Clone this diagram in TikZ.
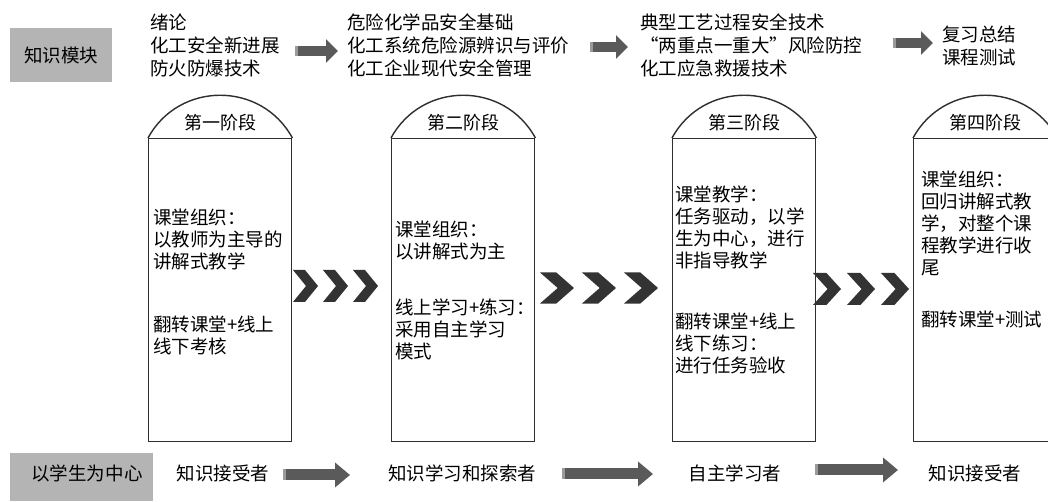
\documentclass[tikz,border=0pt]{standalone}
\usepackage{fontspec}
\setmainfont{Noto Sans CJK SC}
\usetikzlibrary{arrows.meta}
\definecolor{labelgray}{HTML}{B4B4B4}
\definecolor{arrowgray}{HTML}{5A5A5A}
\definecolor{arrowlight}{HTML}{9A9A9A}
\definecolor{chevgray}{HTML}{333333}
\definecolor{linegray}{HTML}{2E2E2E}
\begin{document}
\begin{tikzpicture}[x=1bp,y=1bp,
  txt/.style={font=\fontsize{18.5bp}{23bp}\selectfont, inner sep=0pt, align=left, anchor=north west},
  boxtxt/.style={font=\fontsize{18.5bp}{22bp}\selectfont, inner sep=0pt, align=left, anchor=north west},
  titletxt/.style={font=\fontsize{18bp}{22bp}\selectfont, inner sep=0pt},
  labelbox/.style={fill=labelgray, draw=none, inner sep=0pt, font=\fontsize{18.5bp}{22bp}\selectfont},
  stagebox/.style={draw=linegray, line width=1.4bp, minimum width=143bp, minimum height=303bp, inner sep=0pt, anchor=north west},
  arcline/.style={draw=linegray, line width=1.4bp},
  bigarrow/.style={draw=arrowgray, line width=10bp, -{Triangle[length=12bp,width=23bp]}},
  lowarrow/.style={draw=arrowgray, line width=11bp, -{Triangle[length=15bp,width=24bp]}},
  arrowedge/.style={draw=arrowlight, line width=10bp},
  chev/.pic={\fill[chevgray] (0,16)--(12,16)--(25,0)--(12,-16)--(0,-16)--(13,0)--cycle;}
]
\useasboundingbox (0,0) rectangle (1048,502);
\fill[white] (0,0) rectangle (1048,502);
\clip (0,0) rectangle (1048,502);

% ---------- top row ----------
\node[labelbox, minimum width=102bp, minimum height=54bp] (km) at (61,447) {知识模块};
\node[txt] (t1) at (150,488.5) {绪论\\化工安全新进展\\防火防爆技术};
\node[txt] (t2) at (347,488.5) {危险化学品安全基础\\化工系统危险源辨识与评价\\化工企业现代安全管理};
\node[txt] (t3) at (640,488.5) {典型工艺过程安全技术\\“两重点一重大”风险防控\\化工应急救援技术};
\node[txt] (t4) at (942,476.5) {复习总结\\课程测试};

\coordinate (ta1s) at (295,451); \coordinate (ta1e) at (338,451);
\coordinate (ta2s) at (590,455); \coordinate (ta2e) at (628,455);
\coordinate (ta3s) at (893,459); \coordinate (ta3e) at (933,459);
\draw[bigarrow] (ta1s) -- (ta1e);
\draw[bigarrow] (ta2s) -- (ta2e);
\draw[bigarrow] (ta3s) -- (ta3e);
\draw[arrowedge] (ta1s) -- ++(3,0);
\draw[arrowedge] (ta2s) -- ++(3,0);
\draw[arrowedge] (ta3s) -- ++(3,0);

% ---------- stage boxes ----------
\node[stagebox] (s1) at (148,364) {};
\node[stagebox] (s2) at (391,364) {};
\node[stagebox] (s3) at (672,364) {};
\node[stagebox] (s4) at (913,364) {};
\foreach \s in {s1,s2,s3,s4}{
  \draw[arcline] (\s.north west) .. controls +(31,57) and +(-31,57) .. (\s.north east);
}
\node[titletxt] (h1) at ([yshift=15bp]s1.north) {第一阶段};
\node[titletxt] (h2) at ([yshift=15bp]s2.north) {第二阶段};
\node[titletxt] (h3) at ([yshift=15bp]s3.north) {第三阶段};
\node[titletxt] (h4) at ([yshift=15bp]s4.north) {第四阶段};

\node[boxtxt] (b1a) at (153,293.5) {课堂组织：\\以教师为主导的\\讲解式教学};
\node[boxtxt] (b1b) at (153,186.5) {翻转课堂+线上\\线下考核};
\node[boxtxt] (b2a) at (395,281.5) {课堂组织：\\以讲解式为主};
\node[boxtxt] (b2b) at (395,203.5) {线上学习+练习：\\采用自主学习\\模式};
\node[boxtxt] (b3a) at (675,316.5) {课堂教学：\\任务驱动，以学\\生为中心，进行\\非指导教学};
\node[boxtxt] (b3b) at (675,189.5) {翻转课堂+线上\\线下练习：\\进行任务验收};
\node[boxtxt] (b4a) at (921,331.5) {课堂组织：\\回归讲解式教\\学，对整个课\\程教学进行收\\尾};
\node[boxtxt] (b4b) at (921,191.5) {翻转课堂+测试};

% ---------- chevrons ----------
\foreach \x in {293,323,353} \pic at (\x,216) {chev};
\foreach \x in {540,582,624} \pic[xscale=1.36,yscale=0.97] at (\x,214) {chev};
\foreach \x in {813,847,881} \pic[xscale=1.12] at (\x,213) {chev};

% ---------- bottom row ----------
\node[labelbox, minimum width=143bp, minimum height=48bp] (sc) at (81.5,25) {};
\node[font=\fontsize{18.5bp}{22bp}\selectfont, inner sep=0pt] (sct) at (87,29) {以学生为中心};
\node[font=\fontsize{18.5bp}{22bp}\selectfont, inner sep=0pt] (r1) at (223,29) {知识接受者};
\node[font=\fontsize{18.5bp}{22bp}\selectfont, inner sep=0pt] (r2) at (462,29) {知识学习和探索者};
\node[font=\fontsize{18.5bp}{22bp}\selectfont, inner sep=0pt] (r3) at (735,29) {自主学习者};
\node[font=\fontsize{18.5bp}{22bp}\selectfont, inner sep=0pt] (r4) at (975,29) {知识接受者};

\coordinate (ba1s) at (283,27); \coordinate (ba1e) at (350,27);
\coordinate (ba2s) at (562,28); \coordinate (ba2e) at (653,28);
\coordinate (ba3s) at (815,32); \coordinate (ba3e) at (898,32);
\draw[lowarrow] (ba1s) -- (ba1e);
\draw[lowarrow] (ba2s) -- (ba2e);
\draw[lowarrow] (ba3s) -- (ba3e);
\draw[arrowedge, line width=11bp] (ba1s) -- ++(3,0);
\draw[arrowedge, line width=11bp] (ba2s) -- ++(3,0);
\draw[arrowedge, line width=11bp] (ba3s) -- ++(3,0);
\end{tikzpicture}
\end{document}
